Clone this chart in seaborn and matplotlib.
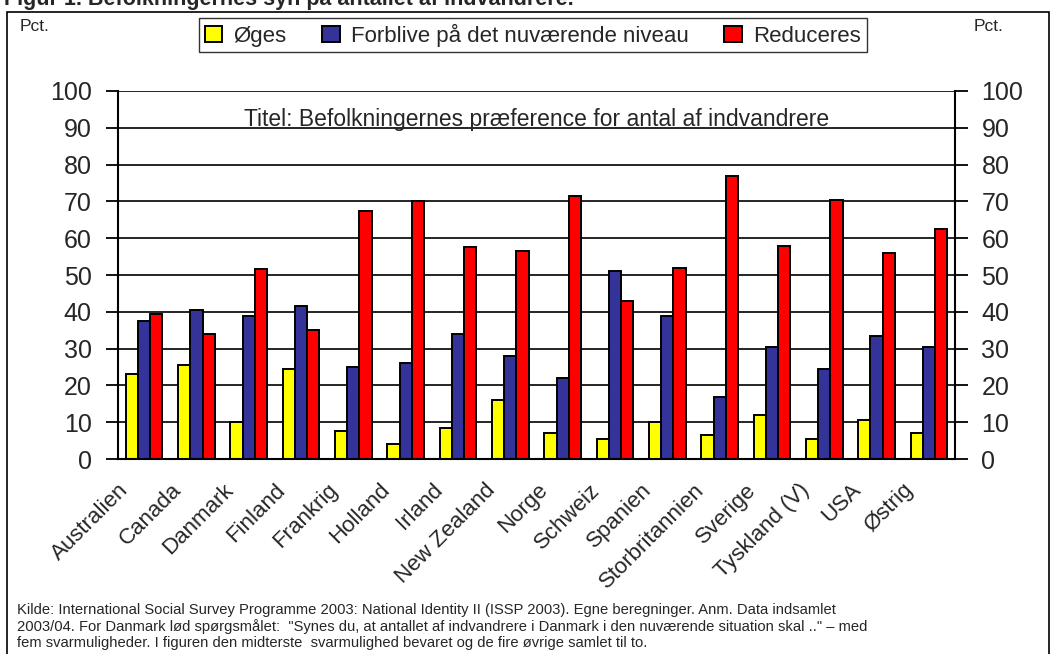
import matplotlib
matplotlib.use("Agg")
import matplotlib.pyplot as plt
import matplotlib.transforms as mtransforms
import seaborn as sns
import pandas as pd
from matplotlib.patches import Rectangle

lande = ["Australien", "Canada", "Danmark", "Finland", "Frankrig", "Holland",
         "Irland", "New Zealand", "Norge", "Schweiz", "Spanien", "Storbritannien",
         "Sverige", "Tyskland (V)", "USA", "Østrig"]
oeges = [23, 25.5, 10, 24.5, 7.5, 4, 8.5, 16, 7, 5.5, 10, 6.5, 12, 5.5, 10.5, 7]
forblive = [37.5, 40.5, 39, 41.5, 25, 26, 34, 28, 22, 51, 39, 17, 30.5, 24.5, 33.5, 30.5]
reducere = [39.5, 34, 51.5, 35, 67.5, 70, 57.5, 56.5, 71.5, 43, 52, 77, 58, 70.5, 56, 62.5]
serier = ["Øges", "Forblive på det nuværende niveau", "Reduceres"]
farver = ["#FFFF00", "#333399", "#FF0000"]

rows = []
for i, land in enumerate(lande):
    rows.append([land, serier[0], oeges[i]])
    rows.append([land, serier[1], forblive[i]])
    rows.append([land, serier[2], reducere[i]])
df = pd.DataFrame(rows, columns=["land", "svar", "pct"])

sns.set_style("white")
plt.rcParams["font.family"] = ["Liberation Sans", "DejaVu Sans"]

fig = plt.figure(figsize=(10.53, 6.54), dpi=100)
ax = fig.add_axes([0.112, 0.298, 0.795, 0.563])

sns.barplot(data=df, x="land", y="pct", hue="svar", palette=farver, saturation=1,
            width=0.7, edgecolor="black", linewidth=1.4, ax=ax, legend=True)

ax.set_ylim(0, 100)
ax.set_xlim(-0.5, len(lande) - 0.5)
ax.set_yticks(range(0, 101, 10))
ax.yaxis.grid(True, color="black", linewidth=1.2)
ax.set_axisbelow(True)
ax.set_xlabel("")
ax.set_ylabel("")

# tick marks between groups, labels at group centres
ax.set_xticks(range(len(lande)))
ax.set_xticklabels(lande, rotation=45, ha="right", rotation_mode="anchor", fontsize=16)
ax.tick_params(axis="x", which="major", length=0, pad=14)
shift = mtransforms.ScaledTranslation(-26 / 100, -1 / 100, fig.dpi_scale_trans)
for lab in ax.get_xticklabels():
    lab.set_transform(lab.get_transform() + shift)
ax.set_xticks([k - 0.5 for k in range(len(lande) + 1)], minor=True)
ax.tick_params(axis="x", which="minor", length=7, width=1.3, color="black", direction="out")

ax.tick_params(axis="y", which="major", labelsize=18, length=9, width=1.3, color="black",
               direction="out", left=True, right=True, labelleft=True, labelright=True, pad=10)

for s in ["left", "right", "bottom"]:
    ax.spines[s].set_color("black")
    ax.spines[s].set_linewidth(1.5)
ax.spines["top"].set_visible(False)

# inner title sits on the 90 line
blend = mtransforms.blended_transform_factory(ax.transAxes, ax.transData)
ax.text(0.5, 90.4, "Titel: Befolkningernes præference for antal af indvandrere",
        transform=blend, ha="center", va="baseline", fontsize=16.5)

handles, labels = ax.get_legend_handles_labels()
ax.get_legend().remove()
fig.legend(handles, labels, loc="center", bbox_to_anchor=(0.506, 0.946), ncol=3,
           fontsize=16, frameon=True, fancybox=False, edgecolor="black",
           handlelength=0.8, handleheight=0.7, handletextpad=0.5, columnspacing=1.6,
           borderpad=0.25, borderaxespad=0)

fig.text(0.019, 0.96, "Pct.", fontsize=12.5, ha="left", va="center")
fig.text(0.925, 0.96, "Pct.", fontsize=12.5, ha="left", va="center")

# figure heading, cut at the top edge as in the source
fig.text(0.004, 1 - 5 / 654, "Figur 1. Befolkningernes syn på antallet af indvandrere.",
         fontsize=15.5, fontweight="bold", ha="left", va="baseline")

# outer frame
fig.patches.append(Rectangle((0.0066, -0.05), 0.99, 1 - 12 / 654 + 0.05,
                             transform=fig.transFigure, fill=False,
                             edgecolor="black", linewidth=1.2))

note = ("Kilde: International Social Survey Programme 2003: National Identity II (ISSP 2003). Egne beregninger. Anm. Data indsamlet\n"
        "2003/04. For Danmark lød spørgsmålet:  \"Synes du, at antallet af indvandrere i Danmark i den nuværende situation skal ..\" – med\n"
        "fem svarmuligheder. I figuren den midterste  svarmulighed bevaret og de fire øvrige samlet til to.")
fig.text(0.016, 0.006, note, fontsize=10.6, ha="left", va="bottom", linespacing=1.18)

fig.savefig("out.png", dpi=100)
